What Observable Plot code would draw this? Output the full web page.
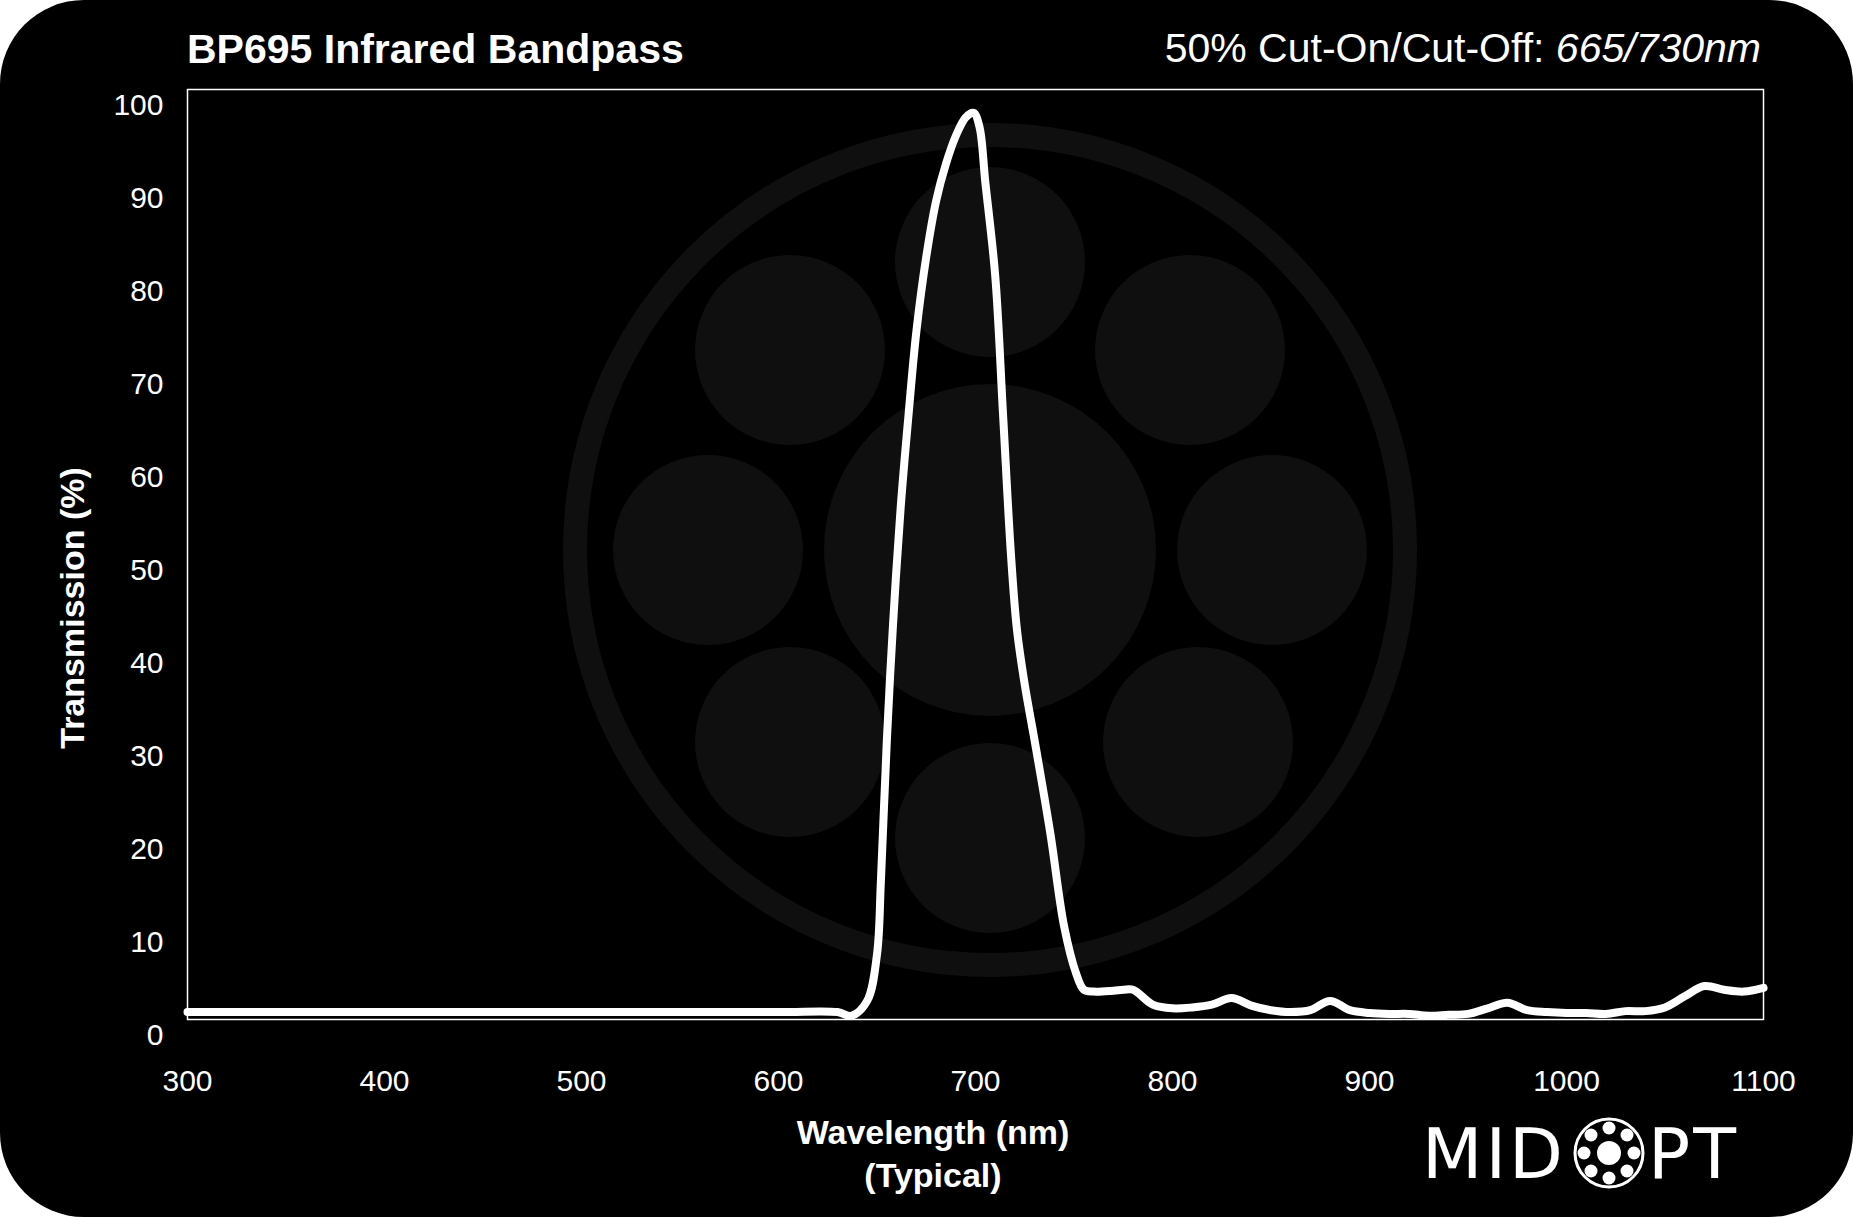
<!DOCTYPE html>
<html><head><meta charset="utf-8">
<script src="https://cdn.jsdelivr.net/npm/d3@7"></script>
<script src="https://cdn.jsdelivr.net/npm/@observablehq/plot@0.6"></script>
<style>
body{margin:0;background:#fff;}
#wrap{position:relative;width:1853px;height:1217px;background:#000;border-radius:84px;overflow:hidden;font-family:"Liberation Sans",Arial,sans-serif;color:#fff;}
.t{position:absolute;white-space:nowrap;}
#plot{position:absolute;left:0;top:0;}
</style></head><body>
<div id="wrap">
<svg style="position:absolute;left:0;top:0" width="1853" height="1217">
 <g fill="#0f0f0f">
  <circle cx="990" cy="550" r="415" fill="none" stroke="#0f0f0f" stroke-width="24"/>
  <circle cx="990" cy="550" r="166"/>
  <circle cx="990" cy="262" r="95"/><circle cx="990" cy="838" r="95"/>
  <circle cx="790" cy="350" r="95"/><circle cx="1190" cy="350" r="95"/>
  <circle cx="708" cy="550" r="95"/><circle cx="1272" cy="550" r="95"/>
  <circle cx="790" cy="742" r="95"/><circle cx="1198" cy="742" r="95"/>
 </g>
 <g>
  <text x="1422" y="1178" fill="#fff" font-family="DejaVu Sans" font-size="70" letter-spacing="3">MID</text>
  <text x="1648" y="1178" fill="#fff" font-family="DejaVu Sans" font-size="70" letter-spacing="3">PT</text>
  <circle cx="1609" cy="1153" r="34" fill="none" stroke="#fff" stroke-width="3"/>
  <g fill="#fff">
   <circle cx="1609" cy="1153" r="12"/>
   <circle cx="1609" cy="1128" r="6.5"/><circle cx="1609" cy="1178" r="6.5"/>
   <circle cx="1584" cy="1153" r="6.5"/><circle cx="1634" cy="1153" r="6.5"/>
   <circle cx="1591" cy="1135" r="6.5"/><circle cx="1627" cy="1135" r="6.5"/>
   <circle cx="1591" cy="1171" r="6.5"/><circle cx="1627" cy="1171" r="6.5"/>
  </g>
 </g>
</svg>
<div id="plot"></div>
<div class="t" style="left:187px;top:26px;font-size:41px;font-weight:bold">BP695 Infrared Bandpass</div>
<div class="t" style="right:92px;top:25px;font-size:41px">50% Cut-On/Cut-Off: <i>665/730nm</i></div>
<div class="t" style="left:933px;top:1111px;transform:translateX(-50%);font-size:34px;font-weight:bold;text-align:center;line-height:43px">Wavelength (nm)<br>(Typical)</div>
<div class="t" style="left:72px;top:608px;transform:translate(-50%,-50%) rotate(-90deg);font-size:34px;font-weight:bold">Transmission (%)</div>
</div>
<script>
const wavelength = [300,400,500,600,630,637,645,650,652,655,658,662,666,670,675,680,685,690,695,699,702,705,710,714,718,721,725,730,738,745,751,755,760,770,775,780,790,800,810,820,830,840,850,860,870,880,890,900,910,920,930,940,950,960,970,980,990,1000,1010,1020,1030,1040,1050,1060,1070,1080,1090,1100];
const transmission = [0.8,0.8,0.8,0.8,0.8,0.4,2,7,15,30,42,55,65,74,82,88,92,95,97,97.5,96,90,80,65,50,42,36,30,20,10,5,3.2,3,3.1,3.2,3.2,1.6,1.2,1.3,1.6,2.3,1.5,1.0,0.8,1.0,2.0,1.0,0.7,0.6,0.6,0.4,0.5,0.6,1.2,1.8,1.0,0.8,0.7,0.7,0.6,0.9,0.9,1.3,2.5,3.6,3.2,3.0,3.4];
const xTicks = [300,400,500,600,700,800,900,1000,1100];
const yTicks = [0,10,20,30,40,50,60,70,80,90,100];
const data = wavelength.map((w,i)=>({w, t: transmission[i]}));
const chart = Plot.plot({
  width:1853, height:1217,
  marginLeft:187, marginRight:90, marginTop:89, marginBottom:198,
  style:{background:"transparent",color:"#fff",fontFamily:"'Liberation Sans',Arial,sans-serif",fontSize:"30px"},
  x:{domain:[300,1100], label:null},
  y:{domain:[0,100], label:null},
  marks:[
    Plot.frame({stroke:"#fff",strokeWidth:1.5}),
    Plot.axisY({ticks:yTicks,tickSize:0,tickPadding:24,dy:16,label:null,fontSize:30,tickFormat:d=>String(d)}),
    Plot.axisX({ticks:xTicks,tickSize:0,tickPadding:50,label:null,fontSize:30,tickFormat:d=>String(d)}),
    Plot.line(data,{x:"w",y:"t",stroke:"#fff",strokeWidth:8,curve:"catmull-rom"})
  ]
});
document.getElementById("plot").appendChild(chart);
</script>
</body></html>
